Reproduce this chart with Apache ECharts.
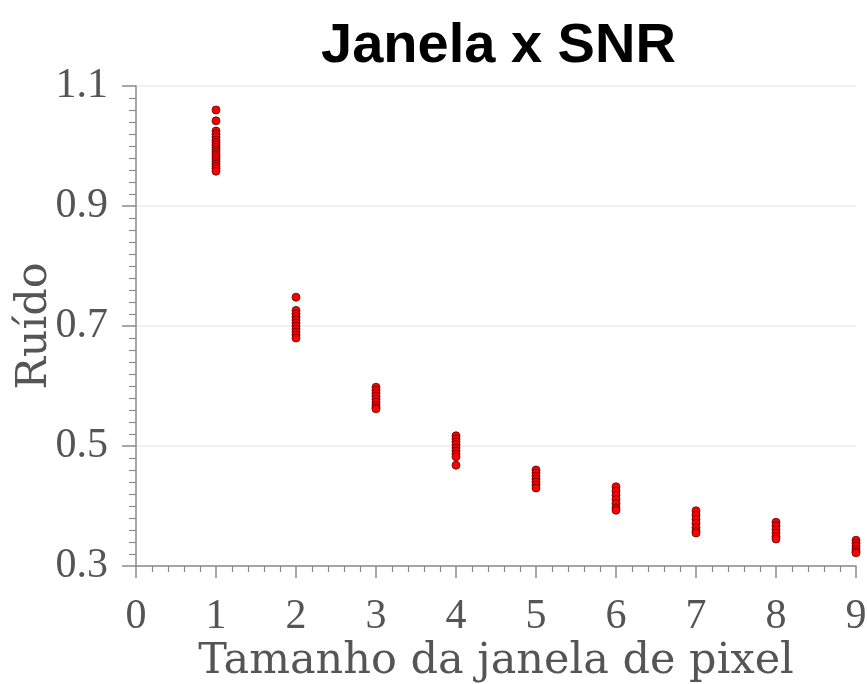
<!DOCTYPE html>
<html>
<head>
<meta charset="utf-8">
<script src="https://cdn.jsdelivr.net/npm/echarts@6/dist/echarts.min.js"></script>
<style>
  html, body { margin: 0; padding: 0; background: #fff; }
  #chart { width: 867px; height: 684px; }
</style>
</head>
<body>
<div id="chart"></div>
<script>
// Window sizes (x) and the noise measured for each repetition (y)
const windowSizes = [1, 2, 3, 4, 5, 6, 7, 8, 9];
const ruidoJanela1 = [1.06, 1.042, 1.025, 1.02, 1.015, 1.01, 1.006, 1.002, 0.998, 0.994, 0.99, 0.986, 0.982, 0.978, 0.974, 0.97, 0.966, 0.962, 0.958];
const ruidoJanela2 = [0.748, 0.726, 0.72, 0.715, 0.71, 0.705, 0.70, 0.695, 0.69, 0.685, 0.68];
const ruidoJanela3 = [0.598, 0.593, 0.588, 0.583, 0.578, 0.573, 0.568, 0.564, 0.562];
const ruidoJanela4 = [0.517, 0.512, 0.507, 0.502, 0.497, 0.492, 0.487, 0.482, 0.468];
const ruidoJanela5 = [0.46, 0.455, 0.45, 0.445, 0.44, 0.435, 0.43];
const ruidoJanela6 = [0.432, 0.425, 0.418, 0.411, 0.404, 0.397, 0.393];
const ruidoJanela7 = [0.392, 0.385, 0.378, 0.371, 0.364, 0.358, 0.355];
const ruidoJanela8 = [0.373, 0.367, 0.361, 0.355, 0.349, 0.345];
const ruidoJanela9 = [0.343, 0.338, 0.333, 0.328, 0.324, 0.322];

const ruidoPorJanela = [ruidoJanela1, ruidoJanela2, ruidoJanela3, ruidoJanela4, ruidoJanela5,
                        ruidoJanela6, ruidoJanela7, ruidoJanela8, ruidoJanela9];

const points = [];
windowSizes.forEach((w, i) => {
  ruidoPorJanela[i].forEach(v => points.push([w, v]));
});

const labelColor = '#555';
const axisColor = '#8a8a8a';

const chart = echarts.init(document.getElementById('chart'), null, { renderer: 'canvas' });
chart.setOption({
  animation: false,
  backgroundColor: '#fff',
  title: {
    text: 'Janela x SNR',
    left: 316,
    top: 14,
    textStyle: {
      fontFamily: 'Liberation Sans, Arial, sans-serif',
      fontWeight: 'bold',
      fontSize: 56,
      color: '#000'
    }
  },
  grid: { left: 136, right: 11, top: 86, bottom: 118, containLabel: false, outerBoundsMode: 'none' },
  xAxis: {
    type: 'value',
    min: 0,
    max: 9,
    interval: 1,
    name: 'Tamanho da janela de pixel',
    nameLocation: 'middle',
    nameGap: 74,
    nameMoveOverlap: false,
    nameTextStyle: { fontFamily: 'DejaVu Serif, serif', fontSize: 43, color: labelColor },
    axisLine: { show: true, lineStyle: { color: axisColor, width: 1.5 } },
    axisTick: { show: true, inside: false, length: 12, lineStyle: { color: axisColor, width: 1.5 } },
    minorTick: { show: true, splitNumber: 5, length: 6, lineStyle: { color: axisColor, width: 1.2 } },
    splitLine: { show: false },
    axisLabel: {
      margin: 30,
      fontFamily: 'Liberation Serif, serif',
      fontSize: 42,
      color: labelColor
    }
  },
  yAxis: {
    type: 'value',
    min: 0.3,
    max: 1.1,
    interval: 0.2,
    name: 'Ruído',
    nameLocation: 'middle',
    nameGap: 80,
    nameMoveOverlap: false,
    nameTextStyle: { fontFamily: 'DejaVu Serif, serif', fontSize: 43, color: labelColor },
    axisLine: { show: true, lineStyle: { color: axisColor, width: 1.5 } },
    axisTick: { show: true, inside: false, length: 14, lineStyle: { color: axisColor, width: 1.5 } },
    minorTick: { show: true, splitNumber: 10, length: 7, lineStyle: { color: axisColor, width: 1.2 } },
    splitLine: { show: true, lineStyle: { color: '#ececec', width: 1.5 } },
    axisLabel: {
      margin: 28,
      fontFamily: 'Liberation Serif, serif',
      fontSize: 42,
      color: labelColor,
      formatter: v => v.toFixed(1)
    }
  },
  series: [{
    type: 'scatter',
    data: points,
    symbol: 'circle',
    symbolSize: 8,
    clip: false,
    itemStyle: { color: '#ff0000', borderColor: '#5a0000', borderWidth: 0.8, opacity: 1 }
  }]
});
</script>
</body>
</html>
